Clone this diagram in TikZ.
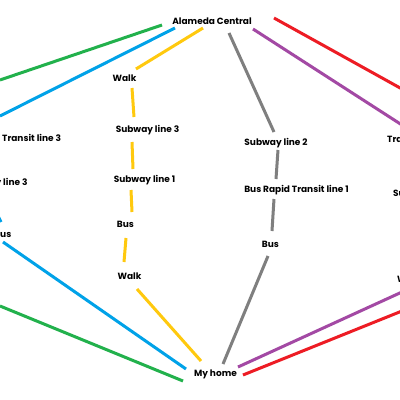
\documentclass[tikz,border=0pt]{standalone}
\usepackage{fontspec}
\setmainfont{Poppins}
\definecolor{pgreen}{RGB}{34,177,76}
\definecolor{pblue}{RGB}{0,162,232}
\definecolor{pyellow}{RGB}{255,201,14}
\definecolor{pgray}{RGB}{127,127,127}
\definecolor{ppurple}{RGB}{163,73,164}
\definecolor{pred}{RGB}{237,28,36}
\tikzset{
  lbl/.style={inner sep=0pt, font=\bfseries\fontsize{9}{11}\selectfont, anchor=base},
  lblw/.style={lbl, anchor=base west},
  route/.style={line width=3pt}
}
\begin{document}
\begin{tikzpicture}[x=1pt,y=-1pt]
\useasboundingbox (0,0) rectangle (400,400);
\fill[white] (0,0) rectangle (400,400);
\clip (0,0) rectangle (400,400);
% labels
\node[lbl] (ac) at (212,24) {Alameda Central};
\node[lbl] (home) at (215.5,376) {My home};
\node[lbl] (w1) at (124.5,81) {Walk};
\node[lbl] (s3) at (147.5,132) {Subway line 3};
\node[lbl] (s1) at (144.5,182) {Subway line 1};
\node[lbl] (by) at (125.5,227) {Bus};
\node[lbl] (w2) at (129.5,279) {Walk};
\node[lbl] (s2) at (276,145) {Subway line 2};
\node[lbl] (brt1) at (296.5,192) {Bus Rapid Transit line 1};
\node[lbl] (bg) at (270.5,247) {Bus};
\node[lblw] (brt3) at (2,141) {\llap{Bus Rapid }Transit line 3};
\node[lblw] (l3) at (3,185) {\llap{Subway }line 3};
\node[lblw] (bb) at (0,237) {\llap{B}us};
\node[lblw] (tr) at (387,142) {Transit line 2};
\node[lblw] (su) at (393,196) {Subway line 2};
\node[lblw] (wr) at (397,282) {Walk};
% endpoints
\coordinate (g1) at (0,80);   \coordinate (g2) at (162,25);
\coordinate (g3) at (0,306);  \coordinate (g4) at (183,381);
\coordinate (b1) at (0,116);  \coordinate (b2) at (175,28);
\coordinate (b3) at (-4,212); \coordinate (b4) at (1,222);
\coordinate (b5) at (3,242);  \coordinate (b6) at (186,369);
\coordinate (y1) at (136,69); \coordinate (y2) at (203,28);
\coordinate (y3) at (132,88); \coordinate (y4) at (134,117);
\coordinate (y5) at (132,142);\coordinate (y6) at (133,169);
\coordinate (y7) at (131,190);\coordinate (y8) at (132,212);
\coordinate (y9) at (126,238);\coordinate (y10) at (124,262);
\coordinate (y11) at (137,289);\coordinate (y12) at (201,361);
\coordinate (k1) at (229,33); \coordinate (k2) at (274,132);
\coordinate (k3) at (278,150);\coordinate (k4) at (276,179);
\coordinate (k5) at (274,199);\coordinate (k6) at (272,231);
\coordinate (k7) at (268,256);\coordinate (k8) at (223,364);
\coordinate (p1) at (253,29); \coordinate (p2) at (402,125);
\coordinate (p3) at (238,367);\coordinate (p4) at (402,292);
\coordinate (r1) at (274,18); \coordinate (r2) at (402,89);
\coordinate (r3) at (243,375);\coordinate (r4) at (402,311);
% routes
\draw[route,pgreen] (g1) -- (g2);
\draw[route,pgreen] (g3) -- (g4);
\draw[route,pblue] (b1) -- (b2);
\draw[route,pblue] (b3) -- (b4);
\draw[route,pblue] (b5) -- (b6);
\draw[route,pyellow] (y1) -- (y2);
\draw[route,pyellow] (y3) -- (y4);
\draw[route,pyellow] (y5) -- (y6);
\draw[route,pyellow] (y7) -- (y8);
\draw[route,pyellow] (y9) -- (y10);
\draw[route,pyellow] (y11) -- (y12);
\draw[route,pgray] (k1) -- (k2);
\draw[route,pgray] (k3) -- (k4);
\draw[route,pgray] (k5) -- (k6);
\draw[route,pgray] (k7) -- (k8);
\draw[route,ppurple] (p1) -- (p2);
\draw[route,ppurple] (p3) -- (p4);
\draw[route,pred] (r1) -- (r2);
\draw[route,pred] (r3) -- (r4);
\end{tikzpicture}
\end{document}
